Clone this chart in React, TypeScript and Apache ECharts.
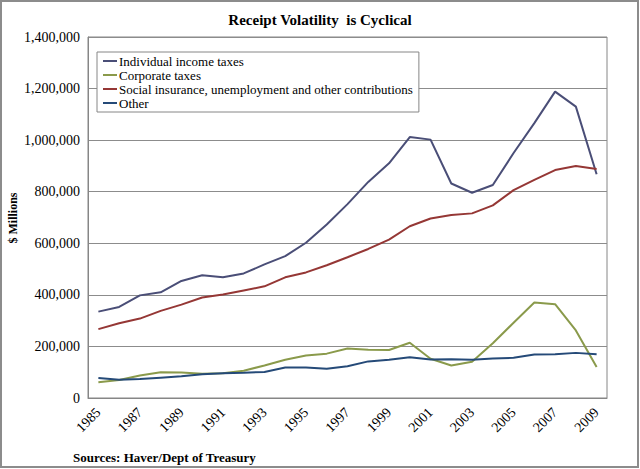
import React, { useEffect, useRef } from "react";
import * as echarts from "echarts";

const years = [
  "1985", "1986", "1987", "1988", "1989", "1990", "1991", "1992", "1993", "1994",
  "1995", "1996", "1997", "1998", "1999", "2000", "2001", "2002", "2003", "2004",
  "2005", "2006", "2007", "2008", "2009",
];
const individual = [
  335000, 353000, 398000, 410000, 454000, 476000, 468000, 483000, 518000, 550000,
  602000, 673000, 752000, 838000, 910000, 1012000, 1002000, 832000, 796000, 826000,
  950000, 1066000, 1188000, 1130000, 868000,
];
const corporate = [
  61000, 70000, 87000, 100000, 99000, 94000, 96000, 106000, 126000, 148000,
  165000, 172000, 192000, 187000, 186000, 214000, 152000, 126000, 141000, 212000,
  292000, 370000, 364000, 262000, 120000,
];
const social = [
  267000, 290000, 308000, 338000, 362000, 390000, 401000, 417000, 433000, 468000,
  487000, 515000, 546000, 578000, 614000, 666000, 696000, 710000, 716000, 747000,
  806000, 846000, 884000, 900000, 888000,
];
const other = [
  78000, 71000, 74000, 79000, 84000, 92000, 96000, 98000, 101000, 118000,
  118000, 113000, 123000, 142000, 148000, 158000, 149000, 150000, 148000, 153000,
  156000, 169000, 170000, 175000, 170000,
];
const seriesNames = [
  "Individual income taxes",
  "Corporate taxes",
  "Social insurance, unemployment and other contributions",
  "Other",
];
const seriesColors = ["#4A4E77", "#8A9A4B", "#953735", "#254A78"];

const serif = "Liberation Serif";

export default function App() {
  const ref = useRef<HTMLDivElement>(null);
  useEffect(() => {
    if (!ref.current) return;
    const chart = echarts.init(ref.current, undefined, { renderer: "svg" });
    const dataSets = [individual, corporate, social, other];
    chart.setOption({
      animation: false,
      backgroundColor: "#ffffff",
      title: {
        text: "Receipt Volatility  is Cyclical",
        left: "center",
        top: 7,
        textStyle: { fontFamily: serif, fontSize: 15, fontWeight: "bold", color: "#000" },
      },
      grid: {
        left: 88,
        right: 33,
        top: 37,
        bottom: 71,
        show: true,
        borderColor: "#868686",
        borderWidth: 1,
        backgroundColor: "transparent",
      },
      legend: {
        orient: "vertical",
        left: 97,
        top: 52,
        padding: [2, 6, 2, 6],
        itemGap: 0,
        itemWidth: 14,
        itemHeight: 2,
        icon: "rect",
        backgroundColor: "#ffffff",
        borderColor: "#868686",
        borderWidth: 1,
        textStyle: { fontFamily: serif, fontSize: 13, color: "#000", lineHeight: 14, padding: [0, 0, 0, -3] },
        data: seriesNames,
      },
      xAxis: {
        type: "category",
        data: years,
        boundaryGap: true,
        axisLine: { show: true, lineStyle: { color: "#868686" } },
        axisTick: { show: false },
        axisLabel: {
          interval: 1,
          rotate: 45,
          fontFamily: serif,
          fontSize: 14,
          color: "#000",
          margin: 12,
        },
      },
      yAxis: {
        type: "value",
        min: 0,
        max: 1400000,
        interval: 200000,
        axisLine: { show: true, lineStyle: { color: "#868686" } },
        axisTick: { show: false },
        splitLine: { lineStyle: { color: "#8c8c8c", width: 1 } },
        axisLabel: {
          fontFamily: serif,
          fontSize: 14,
          color: "#000",
          margin: 8,
          formatter: (v: number) => v.toLocaleString("en-US"),
        },
      },
      series: seriesNames.map((name, i) => ({
        name,
        type: "line",
        data: dataSets[i],
        symbol: "none",
        color: seriesColors[i],
        lineStyle: { width: 2, color: seriesColors[i] },
      })),
      graphic: [
        {
          type: "rect",
          shape: { x: 1, y: 1, width: 637, height: 466 },
          style: { fill: "none", stroke: "#8c8c8c", lineWidth: 2 },
          silent: true,
        },
        {
          type: "text",
          x: 13,
          y: 218,
          rotation: Math.PI / 2,
          style: {
            text: "$ Millions",
            fontFamily: serif,
            fontSize: 12,
            fontWeight: "bold",
            fill: "#000",
            textAlign: "center",
            textVerticalAlign: "middle",
          },
        },
        {
          type: "text",
          x: 73,
          y: 457,
          style: {
            text: "Sources: Haver/Dept of Treasury",
            fontFamily: serif,
            fontSize: 13,
            fontWeight: "bold",
            fill: "#000",
            textAlign: "left",
            textVerticalAlign: "middle",
          },
        },
      ],
    });
    return () => chart.dispose();
  }, []);
  return (
    <div
      ref={ref}
      style={{ position: "absolute", left: 0, top: 0, width: 640, height: 469 }}
    />
  );
}
